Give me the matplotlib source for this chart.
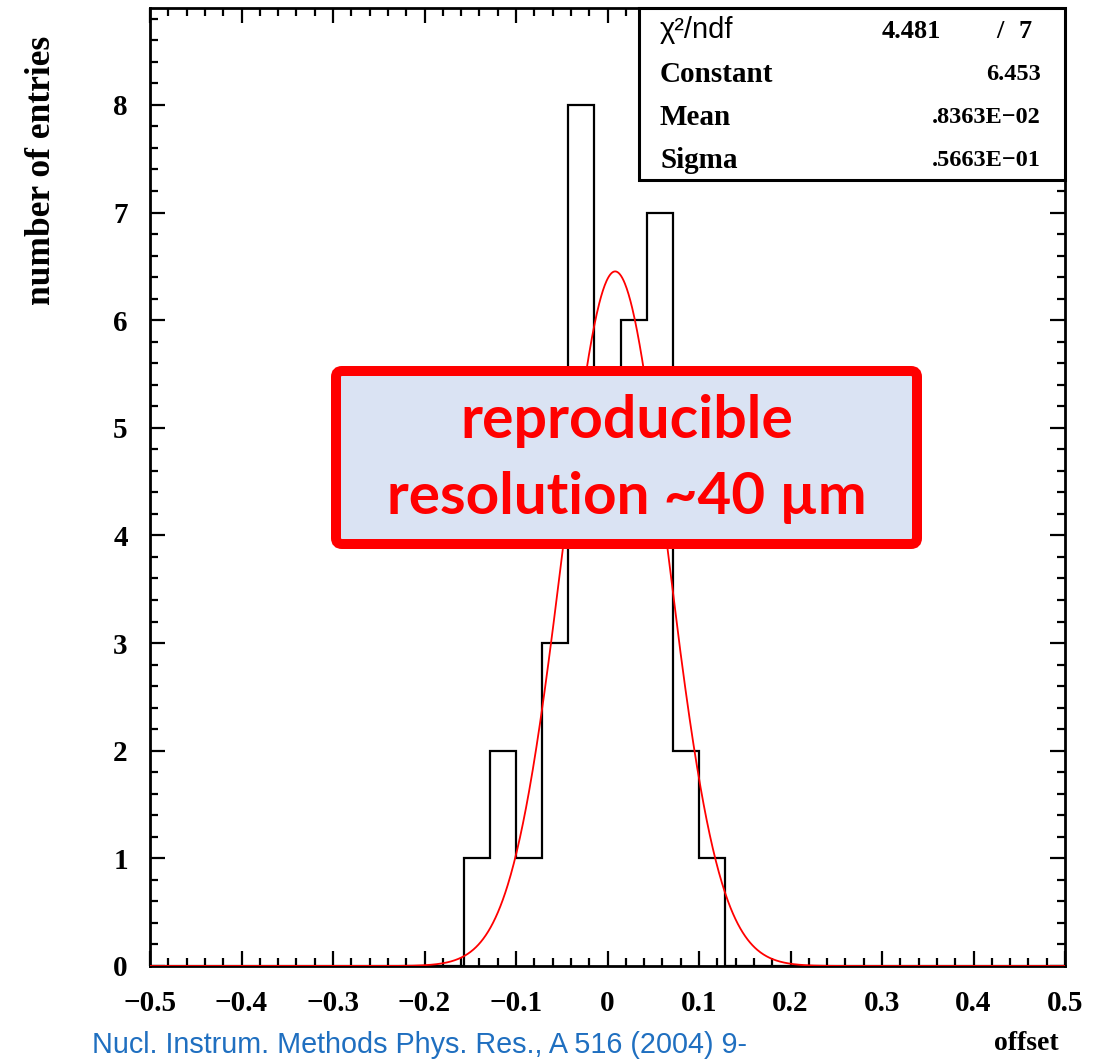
import numpy as np
import matplotlib
matplotlib.use("Agg")
import matplotlib.pyplot as plt
from matplotlib.patches import Rectangle, FancyBboxPatch
from matplotlib.ticker import FixedLocator, FixedFormatter, MultipleLocator

# ---- data ----
bin_lo, bin_hi, n_bins = -0.5, 0.5, 35
counts = [0, 0, 0, 0, 0, 0, 0, 0, 0, 0, 0, 0,
          1, 2, 1, 3, 8, 5, 6, 7, 2, 1,
          0, 0, 0, 0, 0, 0, 0, 0, 0, 0, 0, 0, 0]
fit_constant = 6.453
fit_mean = 0.8363e-02
fit_sigma = 0.5663e-01
chi2, ndf = 4.481, 7
x_ticks = [-0.5, -0.4, -0.3, -0.2, -0.1, 0.0, 0.1, 0.2, 0.3, 0.4, 0.5]
x_tick_labels = ["\u22120.5", "\u22120.4", "\u22120.3", "\u22120.2", "\u22120.1",
                 "0", "0.1", "0.2", "0.3", "0.4", "0.5"]
y_ticks = [0, 1, 2, 3, 4, 5, 6, 7, 8]
y_tick_labels = ["0", "1", "2", "3", "4", "5", "6", "7", "8"]
stat_labels = ["Constant", "Mean", "Sigma"]
stat_values = ["6.453", ".8363E\u221202", ".5663E\u221201"]
x_label = "offset"
y_label = "number of entries"
citation = "Nucl. Instrum. Methods Phys. Res., A 516 (2004) 9-"
note_lines = ["reproducible", "resolution ~40 \u00b5m"]

W, H = 1107, 1061
fig = plt.figure(figsize=(W / 100, H / 100), dpi=100)
fig.patch.set_facecolor("white")

serif = "Liberation Serif"
L, R, T, B = 150, 1065, 8, 966
ax = fig.add_axes([L / W, 1 - B / H, (R - L) / W, (B - T) / H])
edges = np.linspace(bin_lo, bin_hi, n_bins + 1)
ax.stairs(counts, edges, color="black", linewidth=1.6, zorder=3)
xs = np.linspace(bin_lo, bin_hi, 1500)
ax.plot(xs, fit_constant * np.exp(-0.5 * ((xs - fit_mean) / fit_sigma) ** 2),
        color="red", linewidth=1.3, zorder=4)
ax.set_xlim(-0.5, 0.5)
ax.set_ylim(0, 8.9)
ax.xaxis.set_major_locator(FixedLocator(x_ticks))
ax.xaxis.set_major_formatter(FixedFormatter(x_tick_labels))
ax.xaxis.set_minor_locator(MultipleLocator(0.02))
ax.yaxis.set_major_locator(FixedLocator(y_ticks))
ax.yaxis.set_major_formatter(FixedFormatter(y_tick_labels))
ax.yaxis.set_minor_locator(MultipleLocator(0.2))
ax.tick_params(which="both", direction="in", top=True, right=True, width=1.6, color="black")
ax.tick_params(which="major", length=11)
ax.tick_params(which="minor", length=6)
ax.tick_params(axis="x", which="major", pad=17)
ax.tick_params(axis="y", which="major", pad=16)
for lab in ax.get_xticklabels() + ax.get_yticklabels():
    lab.set_fontfamily(serif)
    lab.set_fontweight("bold")
    lab.set_fontsize(21)
for s in ax.spines.values():
    s.set_linewidth(2.0)

# overlay in pixel coordinates
ov = fig.add_axes([0, 0, 1, 1])
ov.set_xlim(0, W)
ov.set_ylim(H, 0)
ov.axis("off")

# y label / x label / citation
ov.text(42, 170, y_label, rotation=90, ha="center", va="center",
        fontfamily=serif, fontweight="bold", fontsize=25.5)
ov.text(1026, 1043, x_label, ha="center", va="center",
        fontfamily=serif, fontweight="bold", fontsize=20)
ov.text(92, 1045, citation, ha="left", va="center",
        fontfamily="Liberation Sans", fontsize=20.7, color="#1f6fc0")

# stats box
ov.add_patch(Rectangle((639, 8), 1065 - 639, 180 - 8, facecolor="white",
                       edgecolor="black", linewidth=2.2, zorder=5))
ov.text(660, 30, "\u03c7\u00b2/ndf", ha="left", va="center",
        fontfamily="Liberation Sans", fontsize=21, zorder=6)
ov.text(941, 31, f"{chi2:.3f}", ha="right", va="center",
        fontfamily=serif, fontweight="bold", fontsize=19, zorder=6)
ov.text(1000, 31, "/", ha="center", va="center",
        fontfamily=serif, fontweight="bold", fontsize=19, zorder=6)
ov.text(1032, 31, f"{ndf}", ha="right", va="center",
        fontfamily=serif, fontweight="bold", fontsize=19, zorder=6)
for i, (lab, val) in enumerate(zip(stat_labels, stat_values)):
    y = 74 + i * 43.5
    ov.text(660, y, lab, ha="left", va="center",
            fontfamily=serif, fontweight="bold", fontsize=21, zorder=6)
    ov.text(1041, y, val, ha="right", va="center",
            fontfamily=serif, fontweight="bold", fontsize=17.5, zorder=6)

# annotation box
ov.add_patch(FancyBboxPatch((336, 371), 917 - 336, 544 - 371,
                            boxstyle="round,pad=0,rounding_size=6",
                            facecolor="#dae3f3", edgecolor="#ff0000",
                            linewidth=7.2, zorder=7))
ov.text(627, 421, note_lines[0], ha="center", va="center",
        fontfamily=["Lato", "DejaVu Sans"], fontweight="bold", fontsize=42.5,
        color="#ff0000", zorder=8)
ov.text(627, 497, note_lines[1], ha="center", va="center",
        fontfamily=["Lato", "DejaVu Sans"], fontweight="bold", fontsize=42,
        color="#ff0000", zorder=8)

fig.savefig("out.png", dpi=100)
